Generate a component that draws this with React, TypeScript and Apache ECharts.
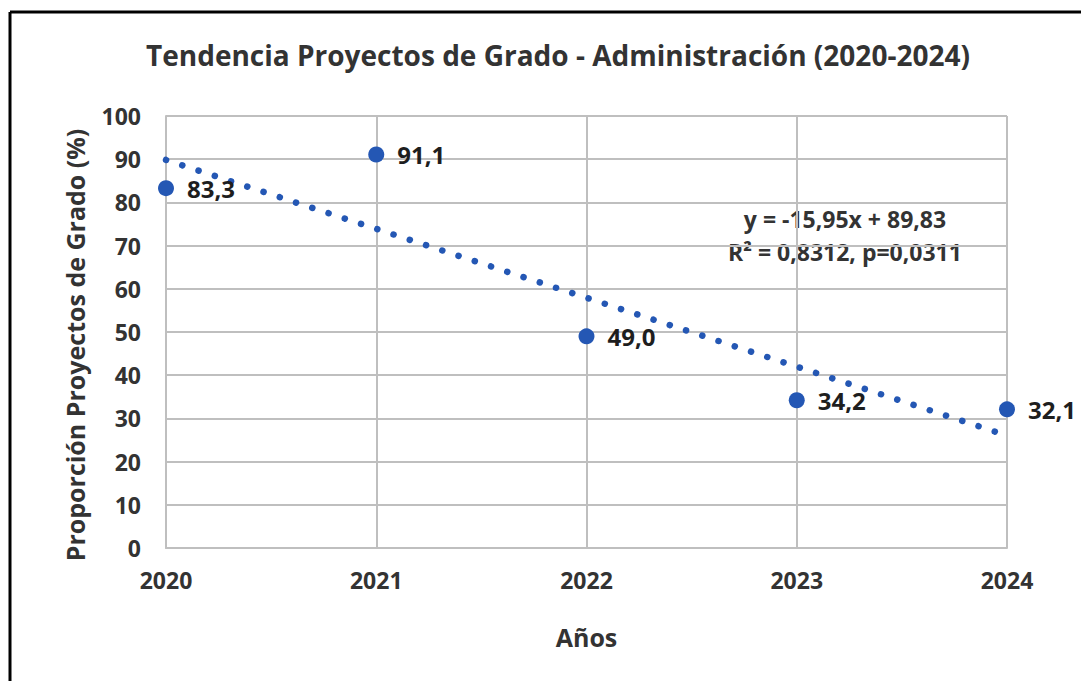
import React, { useEffect, useRef } from "react";
import * as echarts from "echarts";

const years = [2020, 2021, 2022, 2023, 2024];
const values = [83.3, 91.1, 49.0, 34.2, 32.1];
const trendYears = [2020, 2024];
const trendValues = [89.83, 26.03];
const yTicks = [0, 10, 20, 30, 40, 50, 60, 70, 80, 90, 100];
const title = "Tendencia Proyectos de Grado - Administración (2020-2024)";
const yAxisName = "Proporción Proyectos de Grado (%)";
const equationLines = ["y = -15,95x + 89,83", "R² = 0,8312, p=0,0311"];

const FONT = "Open Sans";
const BLUE = "#2457b4";
const TEXT = "#333333";

export default function App() {
  const ref = useRef<HTMLDivElement>(null);
  useEffect(() => {
    if (!ref.current) return;
    const chart = echarts.init(ref.current, null, { renderer: "svg" });
    chart.setOption({
      animation: false,
      backgroundColor: "#ffffff",
      textStyle: { fontFamily: FONT },
      title: {
        text: title,
        left: 141,
        top: 36,
        textStyle: { fontFamily: FONT, fontWeight: "bold", fontSize: 28, color: TEXT },
      },
      grid: { left: 166, right: 74, top: 116, bottom: 133 },
      xAxis: {
        type: "value",
        min: years[0],
        max: years[years.length - 1],
        interval: 1,
        name: "Años",
        nameLocation: "middle",
        nameGap: 76,
        nameTextStyle: { fontFamily: FONT, fontWeight: "bold", fontSize: 25, color: TEXT },
        axisLine: { show: true, lineStyle: { color: "#bfbfbf", width: 2 } },
        axisTick: { show: false },
        splitLine: { show: true, lineStyle: { color: "#bfbfbf", width: 2 } },
        axisLabel: {
          margin: 20,
          formatter: (v: number) => String(v),
          fontFamily: FONT,
          fontWeight: "bold",
          fontSize: 23,
          color: TEXT,
        },
      },
      yAxis: {
        type: "value",
        min: yTicks[0],
        max: yTicks[yTicks.length - 1],
        interval: 10,
        axisLine: { show: true, lineStyle: { color: "#bfbfbf", width: 2 } },
        axisTick: { show: false },
        splitLine: { show: true, lineStyle: { color: "#bfbfbf", width: 2 } },
        axisLabel: {
          margin: 25,
          fontFamily: FONT,
          fontWeight: "bold",
          fontSize: 23,
          color: TEXT,
        },
      },
      series: [
        {
          type: "line",
          data: trendYears.map((x, i) => [x, trendValues[i]]),
          showSymbol: false,
          symbol: "none",
          lineStyle: { color: BLUE, width: 6.5, type: [0.1, 17], cap: "round" },
          silent: true,
          z: 2,
        },
        {
          type: "scatter",
          data: years.map((x, i) => [x, values[i]]),
          symbol: "circle",
          symbolSize: 16,
          itemStyle: { color: BLUE, opacity: 1 },
          label: {
            show: true,
            position: "right",
            distance: 13,
            formatter: (p: any) => p.value[1].toFixed(1).replace(".", ","),
            fontFamily: FONT,
            fontWeight: "bold",
            fontSize: 24,
            color: "#1e1e1e",
          },
          z: 3,
        },
      ],
      graphic: [
        {
          type: "line",
          shape: { x1: 10, y1: 12, x2: 10, y2: 681 },
          style: { stroke: "#000000", lineWidth: 3 },
        },
        {
          type: "line",
          shape: { x1: 10, y1: 12, x2: 1081, y2: 12 },
          style: { stroke: "#000000", lineWidth: 3 },
        },
        {
          type: "text",
          x: 75,
          y: 345,
          rotation: Math.PI / 2,
          style: {
            text: yAxisName,
            fontFamily: FONT,
            fontWeight: "bold",
            fontSize: 25,
            fill: TEXT,
            textAlign: "center",
            textVerticalAlign: "middle",
          },
        },
        {
          type: "text",
          x: 845,
          y: 219,
          style: {
            text: equationLines[0],
            fontFamily: FONT,
            fontWeight: "bold",
            fontSize: 23,
            fill: TEXT,
            textAlign: "center",
            textVerticalAlign: "middle",
          },
        },
        {
          type: "text",
          x: 845,
          y: 252,
          style: {
            text: equationLines[1],
            fontFamily: FONT,
            fontWeight: "bold",
            fontSize: 23,
            fill: TEXT,
            textAlign: "center",
            textVerticalAlign: "middle",
          },
        },
      ],
    });
    return () => chart.dispose();
  }, []);
  return (
    <div
      ref={ref}
      style={{ position: "fixed", left: 0, top: 0, width: 1081, height: 681 }}
    />
  );
}
